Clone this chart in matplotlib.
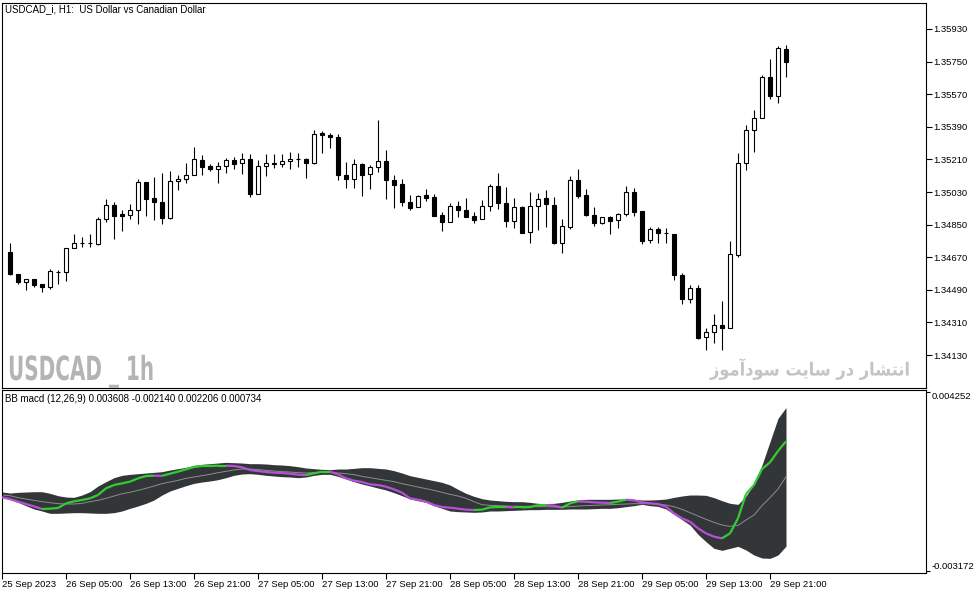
import numpy as np
import matplotlib
matplotlib.use('Agg')
import matplotlib.pyplot as plt
from matplotlib.collections import LineCollection
from matplotlib.patheffects import AbstractPathEffect
from matplotlib.transforms import Affine2D

plt.rcParams['font.family'] = ['Liberation Sans', 'DejaVu Sans']

chart_title = 'USDCAD_i, H1:  US Dollar vs Canadian Dollar'
indicator_title = 'BB macd (12,26,9) 0.003608 -0.002140 0.002206 0.000734'
watermark_en = 'USDCAD _ 1h'
# 'انتشار در سایت سودآموز' written in shaped presentation forms, visual order
watermark_fa = '\uFEAF\uFEEE\uFEE3\uFE81\uFEA9\uFEEE\uFEB3 \uFE96\uFBFE\uFE8E\uFEB3 \uFEAD\uFEA9 \uFEAD\uFE8E\uFEB8\uFE98\uFEE7\uFE8D'

''' H1 candles, 25 Sep 22:00 .. 29 Sep 23:00 '''
opens = [1.34699, 1.34578, 1.34533, 1.34550, 1.34522, 1.34506, 1.34589, 1.34589, 1.34721, 1.34749,
         1.34749, 1.34743, 1.34881, 1.34958, 1.34909, 1.34903, 1.34931, 1.35085, 1.34997, 1.34975,
         1.34887, 1.35091, 1.35102, 1.35124, 1.35207, 1.35174, 1.35157, 1.35174, 1.35207, 1.35190,
         1.35212, 1.35019, 1.35174, 1.35190, 1.35185, 1.35201, 1.35212, 1.35212, 1.35190, 1.35356,
         1.35345, 1.35334, 1.35124, 1.35102, 1.35185, 1.35130, 1.35168, 1.35201, 1.35096, 1.35074,
         1.34975, 1.34947, 1.35014, 1.35003, 1.34903, 1.34865, 1.34953, 1.34931, 1.34898, 1.34881,
         1.34953, 1.35063, 1.34969, 1.34870, 1.34947, 1.34809, 1.34953, 1.34997, 1.34958, 1.34749,
         1.34837, 1.35096, 1.35014, 1.34903, 1.34859, 1.34892, 1.34876, 1.34909, 1.35030, 1.34925,
         1.34765, 1.34826, 1.34804, 1.34798, 1.34572, 1.34440, 1.34500, 1.34230, 1.34257, 1.34296,
         1.34279, 1.34682, 1.35190, 1.35372, 1.35439, 1.35665, 1.35560, 1.35820]
highs = [1.34749, 1.34578, 1.34550, 1.34550, 1.34522, 1.34605, 1.34600, 1.34721, 1.34798, 1.34782,
         1.34798, 1.34892, 1.34992, 1.34975, 1.34931, 1.34964, 1.35102, 1.35085, 1.35113, 1.35135,
         1.35146, 1.35124, 1.35190, 1.35279, 1.35234, 1.35185, 1.35196, 1.35218, 1.35223, 1.35245,
         1.35240, 1.35207, 1.35240, 1.35240, 1.35240, 1.35251, 1.35245, 1.35218, 1.35372, 1.35367,
         1.35356, 1.35350, 1.35196, 1.35212, 1.35190, 1.35179, 1.35428, 1.35262, 1.35124, 1.35102,
         1.35014, 1.35014, 1.35047, 1.35019, 1.34920, 1.34969, 1.34981, 1.34997, 1.34920, 1.34986,
         1.35074, 1.35135, 1.35058, 1.34997, 1.34953, 1.35030, 1.35025, 1.35041, 1.35003, 1.34881,
         1.35119, 1.35157, 1.35047, 1.34947, 1.34892, 1.34898, 1.34914, 1.35063, 1.35052, 1.34925,
         1.34837, 1.34837, 1.34831, 1.34798, 1.34583, 1.34517, 1.34517, 1.34279, 1.34357, 1.34428,
         1.34760, 1.35245, 1.35400, 1.35483, 1.35676, 1.35764, 1.35836, 1.35842]
lows = [1.34572, 1.34522, 1.34489, 1.34506, 1.34478, 1.34495, 1.34522, 1.34539, 1.34721, 1.34727,
        1.34727, 1.34738, 1.34865, 1.34771, 1.34815, 1.34881, 1.34854, 1.34898, 1.34876, 1.34854,
        1.34881, 1.35041, 1.35080, 1.35124, 1.35124, 1.35146, 1.35080, 1.35135, 1.35157, 1.35130,
        1.35003, 1.35019, 1.35119, 1.35163, 1.35168, 1.35157, 1.35168, 1.35107, 1.35185, 1.35245,
        1.35273, 1.35096, 1.35052, 1.35052, 1.35008, 1.35047, 1.35141, 1.34992, 1.34942, 1.34953,
        1.34931, 1.34947, 1.34981, 1.34898, 1.34815, 1.34865, 1.34892, 1.34892, 1.34859, 1.34881,
        1.34925, 1.34936, 1.34837, 1.34831, 1.34804, 1.34749, 1.34820, 1.34837, 1.34743, 1.34693,
        1.34826, 1.34997, 1.34898, 1.34843, 1.34854, 1.34798, 1.34831, 1.34898, 1.34898, 1.34743,
        1.34749, 1.34749, 1.34749, 1.34544, 1.34412, 1.34417, 1.34219, 1.34158, 1.34197, 1.34158,
        1.34279, 1.34671, 1.35152, 1.35251, 1.35439, 1.35544, 1.35521, 1.35665]
closes = [1.34578, 1.34533, 1.34550, 1.34517, 1.34506, 1.34594, 1.34589, 1.34721, 1.34749, 1.34749,
          1.34749, 1.34881, 1.34958, 1.34898, 1.34898, 1.34931, 1.35085, 1.34992, 1.34975, 1.34887,
          1.35091, 1.35102, 1.35124, 1.35212, 1.35168, 1.35157, 1.35174, 1.35207, 1.35185, 1.35212,
          1.35019, 1.35174, 1.35190, 1.35185, 1.35201, 1.35212, 1.35212, 1.35190, 1.35350, 1.35345,
          1.35334, 1.35124, 1.35102, 1.35185, 1.35124, 1.35168, 1.35201, 1.35096, 1.35069, 1.34975,
          1.34942, 1.35008, 1.34997, 1.34898, 1.34865, 1.34953, 1.34931, 1.34892, 1.34876, 1.34953,
          1.35063, 1.34969, 1.34870, 1.34947, 1.34804, 1.34953, 1.34992, 1.34964, 1.34749, 1.34843,
          1.35096, 1.35008, 1.34903, 1.34859, 1.34892, 1.34870, 1.34909, 1.35030, 1.34920, 1.34760,
          1.34826, 1.34804, 1.34804, 1.34572, 1.34440, 1.34500, 1.34224, 1.34257, 1.34296, 1.34279,
          1.34688, 1.35190, 1.35372, 1.35439, 1.35665, 1.35560, 1.35825, 1.35748]

''' BB macd, starts one bar earlier (25 Sep 21:00) '''
bb_upper = [0.000104,
            0.000063, 0.000091, 0.000104, 0.000118, 0.000118, 0.000049, -0.000048, -0.000103, -0.000117, -0.000020,
            0.000118, 0.000353, 0.000533, 0.000699, 0.000796, 0.000837, 0.000865, 0.000893, 0.000920, 0.000948,
            0.001017, 0.001072, 0.001127, 0.001210, 0.001252, 0.001280, 0.001307, 0.001335, 0.001321, 0.001307,
            0.001280, 0.001280, 0.001266, 0.001238, 0.001224, 0.001197, 0.001155, 0.001100, 0.001072, 0.001045,
            0.001031, 0.001058, 0.001058, 0.001086, 0.001114, 0.001114, 0.001086, 0.001058, 0.000989, 0.000893,
            0.000782, 0.000713, 0.000644, 0.000575, 0.000505, 0.000395, 0.000215, 0.000049, -0.000075, -0.000172,
            -0.000227, -0.000255, -0.000282, -0.000296, -0.000296, -0.000324, -0.000365, -0.000379, -0.000365, -0.000324,
            -0.000269, -0.000227, -0.000199, -0.000199, -0.000199, -0.000199, -0.000186, -0.000186, -0.000199, -0.000227,
            -0.000227, -0.000213, -0.000186, -0.000117, -0.000061, -0.000020, -0.000020, -0.000034, -0.000130, -0.000255,
            -0.000365, -0.000407, -0.000061, 0.000436, 0.001224, 0.002192, 0.003159, 0.003608]
bb_lower = [-0.000089,
            -0.000213, -0.000324, -0.000462, -0.000600, -0.000683, -0.000780, -0.000780, -0.000766, -0.000752, -0.000752,
            -0.000766, -0.000780, -0.000780, -0.000752, -0.000683, -0.000573, -0.000476, -0.000365, -0.000227, -0.000020,
            0.000146, 0.000257, 0.000367, 0.000464, 0.000519, 0.000561, 0.000616, 0.000699, 0.000796, 0.000851,
            0.000865, 0.000837, 0.000796, 0.000768, 0.000740, 0.000727, 0.000699, 0.000727, 0.000796, 0.000837,
            0.000837, 0.000754, 0.000644, 0.000533, 0.000436, 0.000353, 0.000270, 0.000188, 0.000077, -0.000048,
            -0.000186, -0.000255, -0.000324, -0.000462, -0.000573, -0.000683, -0.000711, -0.000724, -0.000738, -0.000724,
            -0.000683, -0.000683, -0.000669, -0.000655, -0.000642, -0.000628, -0.000628, -0.000614, -0.000614, -0.000614,
            -0.000600, -0.000600, -0.000600, -0.000586, -0.000573, -0.000573, -0.000545, -0.000503, -0.000462, -0.000407,
            -0.000462, -0.000490, -0.000600, -0.000821, -0.001043, -0.001264, -0.001651, -0.001956, -0.002232, -0.002315,
            -0.002232, -0.002149, -0.002301, -0.002508, -0.002633, -0.002647, -0.002508, -0.002140]
macd_line = [-0.000117,
             -0.000186, -0.000296, -0.000393, -0.000490, -0.000600, -0.000586, -0.000559, -0.000365, -0.000282, -0.000227,
             -0.000158, -0.000020, 0.000257, 0.000395, 0.000464, 0.000533, 0.000671, 0.000768, 0.000782, 0.000775,
             0.000865, 0.000948, 0.001045, 0.001141, 0.001183, 0.001183, 0.001197, 0.001197, 0.001183, 0.001127,
             0.001017, 0.000975, 0.000934, 0.000906, 0.000893, 0.000865, 0.000823, 0.000810, 0.000879, 0.000948,
             0.000948, 0.000837, 0.000671, 0.000575, 0.000519, 0.000422, 0.000395, 0.000326, 0.000215, 0.000077,
             -0.000158, -0.000213, -0.000296, -0.000434, -0.000517, -0.000545, -0.000586, -0.000628, -0.000642, -0.000628,
             -0.000531, -0.000517, -0.000517, -0.000531, -0.000531, -0.000517, -0.000448, -0.000434, -0.000462, -0.000545,
             -0.000365, -0.000282, -0.000296, -0.000324, -0.000338, -0.000352, -0.000296, -0.000213, -0.000241, -0.000324,
             -0.000365, -0.000393, -0.000503, -0.000780, -0.000987, -0.001126, -0.001402, -0.001610, -0.001748, -0.001817,
             -0.001610, -0.000987, 0.000022, 0.000395, 0.001058, 0.001335, 0.001805, 0.002206]
bb_mid = [-0.000020,
          -0.000048, -0.000130, -0.000186, -0.000241, -0.000296, -0.000338, -0.000379, -0.000393, -0.000393, -0.000365,
          -0.000296, -0.000241, -0.000158, -0.000061, 0.000035, 0.000091, 0.000174, 0.000257, 0.000353, 0.000450,
          0.000519, 0.000588, 0.000671, 0.000727, 0.000782, 0.000837, 0.000906, 0.000962, 0.001017, 0.001058,
          0.001058, 0.001031, 0.001003, 0.000975, 0.000948, 0.000934, 0.000906, 0.000893, 0.000906, 0.000920,
          0.000920, 0.000893, 0.000865, 0.000823, 0.000754, 0.000699, 0.000644, 0.000588, 0.000533, 0.000450,
          0.000381, 0.000312, 0.000243, 0.000174, 0.000091, 0.000008, -0.000061, -0.000158, -0.000296, -0.000421,
          -0.000448, -0.000462, -0.000476, -0.000490, -0.000490, -0.000490, -0.000503, -0.000503, -0.000517, -0.000517,
          -0.000503, -0.000476, -0.000462, -0.000448, -0.000434, -0.000421, -0.000407, -0.000393, -0.000379, -0.000379,
          -0.000379, -0.000393, -0.000434, -0.000503, -0.000614, -0.000752, -0.000891, -0.001029, -0.001154, -0.001264,
          -0.001320, -0.001278, -0.001057, -0.000849, -0.000462, -0.000130, 0.000229, 0.000734]

price_ticks = [1.34130, 1.34310, 1.34490, 1.34670, 1.34850, 1.35030,
               1.35210, 1.35390, 1.35570, 1.35750, 1.35930]
macd_ticks = [-0.003172, 0.004252]
time_labels = ['25 Sep 2023', '26 Sep 05:00', '26 Sep 13:00', '26 Sep 21:00',
               '27 Sep 05:00', '27 Sep 13:00', '27 Sep 21:00', '28 Sep 05:00',
               '28 Sep 13:00', '28 Sep 21:00', '29 Sep 05:00', '29 Sep 13:00',
               '29 Sep 21:00']


class Squeeze(AbstractPathEffect):
    ''' draw text narrower (no condensed bold font installed) '''
    def __init__(self, sx):
        super().__init__()
        self.sx = sx

    def draw_path(self, renderer, gc, tpath, affine, rgbFace=None):
        renderer.draw_path(gc, tpath, Affine2D().scale(self.sx, 1) + affine, rgbFace)


W, H = 979, 595
fig = plt.figure(figsize=(W / 100, H / 100), dpi=100)
ax = fig.add_axes([2 / W, 1 - 388 / H, 924 / W, 385 / H])
ax2 = fig.add_axes([2 / W, 1 - 573 / H, 924 / W, 183 / H])

''' Candles '''
idx = np.arange(len(opens))
o = np.array(opens)
c = np.array(closes)
ax.vlines(idx, lows, highs, color='black', linewidth=0.8, zorder=1)
face = ['white' if cc >= oo else 'black' for oo, cc in zip(o, c)]
ax.bar(idx, np.abs(c - o), bottom=np.minimum(o, c), width=0.62,
       facecolor=face, edgecolor='black', linewidth=0.8, zorder=2)

ax.set_xlim(-1, 114.5)
ax.set_ylim(1.339482, 1.360734)
ax.set_xticks([])
ax.yaxis.tick_right()
ax.set_yticks(price_ticks)
ax.set_yticklabels(['%.5f' % p for p in price_ticks])
ax.tick_params(axis='y', length=4, width=0.8, pad=1, labelsize=6.8)

''' Indicator '''
idx2 = np.arange(-1, len(macd_line) - 1)
ax2.fill_between(idx2, bb_lower, bb_upper, color='#333639', linewidth=0, zorder=1)
ax2.plot(idx2, bb_mid, color='#8c8c8c', linewidth=0.7, zorder=2)
m = np.array(macd_line)
segs = [[(idx2[i - 1], m[i - 1]), (idx2[i], m[i])] for i in range(1, len(m))]
cols = ['#32cd32' if m[i] >= m[i - 1] else '#b84fd8' for i in range(1, len(m))]
ax2.add_collection(LineCollection(segs, colors=cols, linewidths=1.6, zorder=3))

ax2.set_xlim(-1, 114.5)
ax2.set_ylim(-0.003254, 0.004335)
ax2.yaxis.tick_right()
ax2.set_yticks(macd_ticks)
ax2.set_yticklabels(['%.6f' % v for v in macd_ticks])
ax2.tick_params(axis='y', length=3, width=0.8, pad=1, labelsize=6.8)
ylabs = ax2.get_yticklabels()
ylabs[0].set_va('bottom')
ylabs[1].set_va('top')

time_ticks = [-1] + [7 + 8 * k for k in range(len(time_labels) - 1)]
ax2.set_xticks(time_ticks)
ax2.set_xticklabels(time_labels, ha='left')
ax2.tick_params(axis='x', length=4, width=0.8, pad=1, labelsize=6.8)

for a in (ax, ax2):
    for s in a.spines.values():
        s.set_linewidth(0.8)

fig.text(5 / W, 1 - 9 / H, chart_title, va='center', fontsize=7)
fig.text(5 / W, 1 - 399 / H, indicator_title, va='center', fontsize=7)
fig.text(8 / W, 1 - 380 / H, watermark_en, va='baseline', fontsize=24, fontweight='bold',
         family=['DejaVu Sans'], color='#b4b4b4', path_effects=[Squeeze(0.6)])
fig.text(710 / W, 1 - 369 / H, watermark_fa, ha='left', va='center', fontsize=13,
         fontweight='bold', family=['DejaVu Sans'], color='#c4c4c4', path_effects=[Squeeze(0.9)])

plt.savefig('out.png', dpi=100)
